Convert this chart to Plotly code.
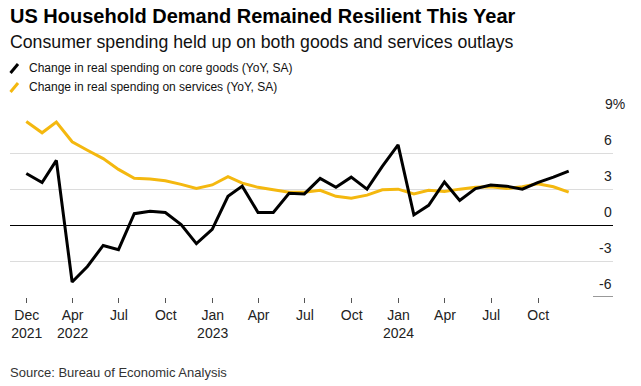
import plotly.graph_objects as go
import pandas as pd

# ---- data ----
months = pd.period_range("2021-12", "2024-11", freq="M")
core_goods = [4.3, 3.55, 5.4, -4.75, -3.45, -1.7, -2.05, 0.95, 1.15, 1.05, 0.05, -1.55,
              -0.35, 2.4, 3.25, 1.05, 1.05, 2.65, 2.6, 3.9, 3.15, 4.0, 3.0, 4.9,
              6.7, 0.85, 1.65, 3.6, 2.05, 3.05, 3.35, 3.25, 3.0, 3.55, 4.0, 4.5]
services = [8.65, 7.7, 8.6, 6.95, 6.25, 5.55, 4.65, 3.9, 3.85, 3.7, 3.4, 3.05,
            3.35, 4.05, 3.5, 3.15, 2.95, 2.75, 2.75, 2.9, 2.4, 2.25, 2.5, 2.95,
            3.0, 2.6, 2.9, 2.8, 3.0, 3.15, 3.2, 3.05, 3.2, 3.45, 3.2, 2.75]
tick_dates = ["2022-01-01", "2022-04-01", "2022-07-01", "2022-10-01", "2023-01-01", "2023-04-01",
              "2023-07-01", "2023-10-01", "2024-01-01", "2024-04-01", "2024-07-01", "2024-10-01"]
tick_labels = ["Dec<br>2021", "Apr<br>2022", "Jul", "Oct", "Jan<br>2023", "Apr",
               "Jul", "Oct", "Jan<br>2024", "Apr", "Jul", "Oct"]
y_ticks = [-6, -3, 0, 3, 6, 9]
y_tick_labels = ["-6", "-3", "0", "3", "6", "9%"]
series_names = ["Change in real spending on core goods (YoY, SA)",
                "Change in real spending on services (YoY, SA)"]
colors = ["#000000", "#F4B80F"]

dates = [p.to_timestamp(how="end").normalize() for p in months]

W, H = 641, 386
L, R, T, B = 10, 28, 117, 89
FONT = "Liberation Sans"

def px2x(px):
    return (px - L) / (W - L - R)

def px2y(py):
    return (H - B - py) / (H - T - B)

fig = go.Figure()
for name, vals, c in list(zip(series_names, [core_goods, services], colors))[::-1]:
    fig.add_trace(go.Scatter(x=dates, y=vals, mode="lines", name=name,
                             line=dict(color=c, width=3), showlegend=False))

fig.update_xaxes(type="date", range=["2021-11-29", "2025-02-25"],
                 tickvals=tick_dates, ticktext=tick_labels,
                 ticks="outside", ticklen=5, tickcolor="#555", tickwidth=1,
                 showgrid=False, showline=False, zeroline=False,
                 tickfont=dict(family=FONT, size=14, color="#222"))
fig.update_yaxes(range=[-6, 9.02], tickvals=[-3, 0, 3, 6, 9], showticklabels=False,
                 gridcolor="#dcdcdc", gridwidth=1, zeroline=True, zerolinecolor="#000",
                 zerolinewidth=1, showline=False, ticks="")

ann = []
ann.append(dict(text="<b>US Household Demand Remained Resilient This Year</b>", x=px2x(8), y=px2y(16),
                xref="paper", yref="paper", xanchor="left", yanchor="middle", showarrow=False,
                font=dict(family=FONT, size=20, color="#000")))
ann.append(dict(text="Consumer spending held up on both goods and services outlays", x=px2x(8), y=px2y(42),
                xref="paper", yref="paper", xanchor="left", yanchor="middle", showarrow=False,
                font=dict(family=FONT, size=17.7, color="#111")))
for i, name in enumerate(series_names):
    ann.append(dict(text=name, x=px2x(27), y=px2y(68 + 19 * i), xref="paper", yref="paper",
                    xanchor="left", yanchor="middle", showarrow=False,
                    font=dict(family=FONT, size=12, color="#111")))
ann.append(dict(text="Source: Bureau of Economic Analysis", x=px2x(8), y=px2y(372),
                xref="paper", yref="paper", xanchor="left", yanchor="middle", showarrow=False,
                font=dict(family=FONT, size=13, color="#333")))
for v, lab in zip(y_ticks, y_tick_labels):
    right = 614 + (12.5 if lab.endswith("%") else 0)
    ann.append(dict(text=lab, x=px2x(right), y=v, xref="paper", yref="y", yshift=13,
                    xanchor="right", yanchor="middle", showarrow=False,
                    font=dict(family=FONT, size=14, color="#222")))

shapes = [dict(type="line", xref="paper", yref="y", x0=px2x(593), x1=px2x(613), y0=-6, y1=-6,
               line=dict(color="#333", width=1))]
for i, c in enumerate(colors):
    y0 = 73 + 19 * i
    shapes.append(dict(type="line", xref="paper", yref="paper", x0=px2x(10.5), x1=px2x(18),
                       y0=px2y(y0), y1=px2y(y0 - 9), line=dict(color=c, width=3)))

fig.update_layout(width=W, height=H, margin=dict(l=L, r=R, t=T, b=B),
                  paper_bgcolor="white", plot_bgcolor="white",
                  annotations=ann, shapes=shapes)
fig.write_html("out.html", config={"displayModeBar": False},
               post_script="document.body.style.margin='0px';")
